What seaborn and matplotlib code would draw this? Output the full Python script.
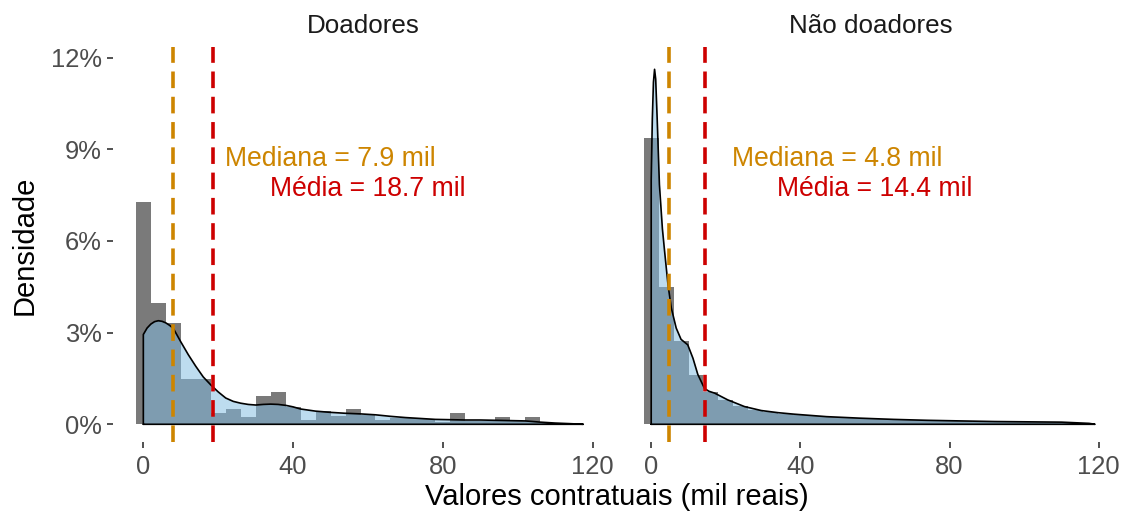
import matplotlib
matplotlib.use("Agg")
import matplotlib.pyplot as plt
import seaborn as sns
import numpy as np
import pandas as pd
from matplotlib.ticker import FuncFormatter

sns.set_style("white")
plt.rcParams['font.family'] = ['Liberation Sans', 'DejaVu Sans']

# ---------------- data ----------------
panels = ["Doadores", "Não doadores"]
bin_centers = [0, 4, 8, 12, 16, 20, 24, 28, 32, 36, 40, 44, 48, 52, 56, 60,
               64, 68, 72, 76, 80, 84, 88, 92, 96, 100, 104, 108, 112, 116]
hist_doadores = [7.28, 3.97, 3.31, 1.47, 1.47, 0.36, 0.49, 0.25, 0.91, 1.05,
                 0.55, 0.14, 0.42, 0.28, 0.51, 0.32, 0.14, 0.22, 0.2, 0.18,
                 0.08, 0.38, 0.1, 0.1, 0.24, 0.1, 0.24, 0.05, 0.03, 0.02]
hist_nao = [9.36, 4.49, 2.71, 1.6, 1.05, 0.8, 0.6, 0.48, 0.4, 0.35,
            0.3, 0.27, 0.25, 0.22, 0.2, 0.18, 0.16, 0.15, 0.13, 0.12,
            0.11, 0.1, 0.09, 0.09, 0.08, 0.08, 0.07, 0.07, 0.06, 0.04]

dens_x_doadores = [0, 0, 1, 2, 3, 4, 5, 6, 7, 8, 10, 12, 14, 16, 18, 20, 22, 24,
                   26, 28, 30, 32, 34, 36, 38, 40, 42, 46, 50, 54, 58, 62, 66,
                   70, 74, 78, 82, 86, 90, 94, 98, 102, 106, 110, 114, 117.5]
dens_y_doadores = [0, 2.94, 3.15, 3.28, 3.36, 3.39, 3.37, 3.32, 3.24, 3.14, 2.7,
                   2.28, 1.9, 1.55, 1.29, 1.06, 0.86, 0.75, 0.69, 0.65, 0.63,
                   0.65, 0.66, 0.65, 0.62, 0.57, 0.5, 0.43, 0.39, 0.36, 0.34,
                   0.31, 0.26, 0.22, 0.19, 0.16, 0.15, 0.14, 0.14, 0.13, 0.12,
                   0.11, 0.07, 0.04, 0.02, 0]
dens_x_nao = [0, 0, 0.3, 0.6, 0.9, 1.2, 1.6, 2.2, 3, 3.6, 4.5, 5.4, 6.7, 8, 9,
              9.8, 11.2, 12.5, 14.3, 15.5, 17, 20.5, 25, 29.5, 34, 38.4, 47,
              56, 65, 74, 83, 92, 101, 110, 117.4, 119]
dens_y_nao = [0, 8.0, 10.0, 11.2, 11.62, 11.3, 10.0, 7.85, 6.4, 5.65, 4.57,
              3.8, 3.15, 2.78, 2.68, 2.6, 2.16, 1.63, 1.17, 1.08, 1.02, 0.8,
              0.58, 0.45, 0.38, 0.33, 0.25, 0.2, 0.16, 0.13, 0.11, 0.09, 0.08,
              0.07, 0.03, 0]

medianas = [7.9, 4.8]
medias = [18.7, 14.4]
x_ticks = [0, 40, 80, 120]
y_ticks = [0, 3, 6, 9, 12]

# ---------------- styling ----------------
GRAY_BAR = "#7A7A7A"
FILL = (130/255, 188/255, 226/255)
ORANGE = "#CD8500"
RED = "#CD0000"
TICK_COL = "#4D4D4D"

fig = plt.figure(figsize=(11.28, 5.12), dpi=100)
W, H = 1128, 512
def add_ax(x0, x1, y_top, y_bot):
    return fig.add_axes([x0 / W, (H - y_bot) / H, (x1 - x0) / W, (y_bot - y_top) / H])

axes = [add_ax(113, 614, 47, 442), add_ax(621, 1120, 47, 442)]
hists = [hist_doadores, hist_nao]
dens_x = [dens_x_doadores, dens_x_nao]
dens_y = [dens_y_doadores, dens_y_nao]
edges = [c - 2 for c in bin_centers] + [bin_centers[-1] + 2]

for i, ax in enumerate(axes):
    df = pd.DataFrame({"x": bin_centers, "w": hists[i]})
    sns.histplot(data=df, x="x", weights="w", bins=edges, stat="count",
                 color=GRAY_BAR, alpha=1, edgecolor="none", linewidth=0, ax=ax)
    dx = dens_x[i]
    dy = dens_y[i]
    ax.fill_between(dx, 0, dy, color=FILL, alpha=0.52, linewidth=0, zorder=3)
    outline = pd.DataFrame({"x": dx + [dx[-1], dx[0]], "y": dy + [0, 0]})
    sns.lineplot(data=outline, x="x", y="y", sort=False, estimator=None,
                 color="black", linewidth=1.2, ax=ax, zorder=4)
    ax.axvline(medianas[i], color=ORANGE, linewidth=2.6, linestyle=(0, (4.6, 2.4)), zorder=5)
    ax.axvline(medias[i], color=RED, linewidth=2.6, linestyle=(0, (4.6, 2.4)), zorder=5)
    ax.text(50, 8.69, f"Mediana = {medianas[i]} mil", color=ORANGE, fontsize=19.2,
            ha="center", va="center", zorder=6)
    ax.text(60, 7.70, f"Média = {medias[i]} mil", color=RED, fontsize=19.2,
            ha="center", va="center", zorder=6)

    ax.set_xlim(-8.1, 125.7)
    ax.set_ylim(-0.58, 12.35)
    ax.set_xticks(x_ticks)
    ax.set_xticklabels([str(t) for t in x_ticks])
    ax.set_yticks(y_ticks)
    ax.yaxis.set_major_formatter(FuncFormatter(lambda v, p: f"{v:.0f}%"))
    ax.set_xlabel("")
    ax.set_ylabel("")
    for s in ax.spines.values():
        s.set_visible(False)
    ax.tick_params(axis="x", bottom=True, length=4, width=1.2, color="#333333",
                   labelsize=18.4, labelcolor=TICK_COL, pad=5)
    ax.tick_params(axis="y", left=True, length=4, width=1.2, color="#333333",
                   labelsize=18.4, labelcolor=TICK_COL, pad=4)
    ax.set_title(panels[i], fontsize=18.7, color="#1A1A1A", pad=10)
    ax.grid(False)

axes[1].tick_params(axis="y", left=False, labelleft=False)

fig.text(616.5 / W, (H - 497) / H, "Valores contratuais (mil reais)", fontsize=21,
         ha="center", va="center", color="black")
fig.text(25 / W, (H - 245) / H, "Densidade", fontsize=21, rotation=90,
         ha="center", va="center", color="black")

fig.savefig("out.png", dpi=100)
